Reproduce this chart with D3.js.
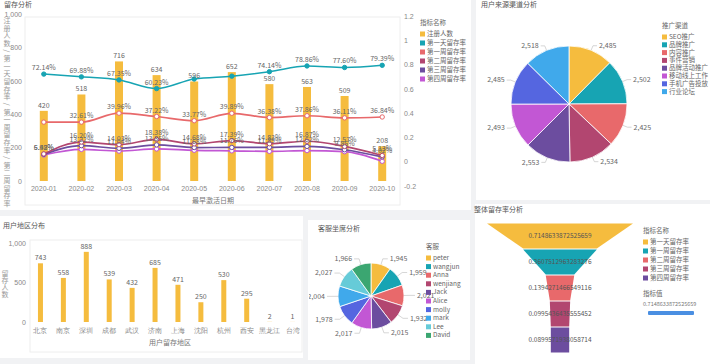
<!DOCTYPE html>
<html><head><meta charset="utf-8">
<script src="https://cdn.jsdelivr.net/npm/d3@7/dist/d3.min.js"></script>
<style>
body{margin:0;background:#fff;}
svg{display:block;font-family:"Noto Sans CJK SC","Noto Sans",sans-serif;}
</style>
</head><body>
<svg id="c" width="710" height="364"></svg>
<script>
// ---------- DATA ----------
const months = ["2020-01","2020-02","2020-03","2020-04","2020-05","2020-06","2020-07","2020-08","2020-09","2020-10"];
const registrations = [420,518,716,634,596,652,580,563,509,208];
const day1Rate  = [0.7214,0.6988,0.6735,0.6023,0.6812,0.7045,0.7414,0.7886,0.7760,0.7939];
const week1Rate = [0.3262,0.3261,0.3996,0.3722,0.3377,0.3989,0.3638,0.3786,0.3611,0.3684];
const week2Rate = [0.0642,0.1620,0.1403,0.1838,0.1468,0.1739,0.1483,0.1687,0.1257,0.0513];
const week3Rate = [0.0598,0.1322,0.1104,0.1385,0.1168,0.1176,0.1189,0.1262,0.0985,0.0402];
const week4Rate = [0.0556,0.1012,0.0876,0.1054,0.0942,0.0897,0.0853,0.0915,0.0827,0.0034];
const retentionNames = ["注册人数","第一天留存率","第一周留存率","第二周留存率","第三周留存率","第四周留存率"];

const channels = ["SEO推广","品牌推广","内容推广","事件营销","品牌活动推广","移动线上工作","手机广告投放","行业论坛"];
const channelValues = [2485,2502,2425,2534,2553,2493,2485,2518];

const regions = ["北京","南京","深圳","成都","武汉","济南","上海","沈阳","杭州","西安","黑龙江","台湾"];
const regionValues = [743,558,888,539,432,685,471,250,530,295,2,1];

const agents = ["peter","wangjun","Anna","wenjiang","Jack","Alice","molly","mark","Lee","David"];
const agentValues = [1945,1959,2021,1932,2015,2017,1978,2004,2027,1966];

const funnelStages = ["第一天留存率","第一周留存率","第二周留存率","第三周留存率","第四周留存率"];
const funnelValues = [0.7148633872525659,0.3607512963283276,0.1394271466549116,0.0995436435555452,0.0899571938058714];

// ---------- STYLE ----------
const palette = ["#F5BC3E","#17A4B3","#E8696B","#B24670","#6C4D9F","#C257D4","#5566E0","#40A9EB","#66CBD8","#3BA671"];
const fs = 7, tc = "#888", lc = "#666";

const svg = d3.select("#c");
svg.append("rect").attr("width",710).attr("height",364).attr("fill","#f1f2f4");
function card(x,y,w,h){svg.append("rect").attr("x",x).attr("y",y).attr("width",w).attr("height",h).attr("fill","#fff");}
card(0,0,471,210); card(476,0,234,200); card(0,216,303,142); card(308,220,162,140); card(475,204,235,160);
function title(x,y,t){svg.append("text").attr("x",x).attr("y",y).attr("font-size",7).attr("fill","#555").text(t);}
title(4,7,"留存分析"); title(481,7,"用户来源渠道分析"); title(3,228,"用户地区分布"); title(318,231,"客服坐席分析"); title(474,212,"整体留存率分析");
function frame(x,y,w,h){svg.append("rect").attr("x",x).attr("y",y).attr("width",w).attr("height",h).attr("fill","none").attr("stroke","#eeeeee");}
frame(25,17,375,188); frame(30,240,272,112);

function legend(x,y,ttl,names,colors,step){
  const g=svg.append("g");
  g.append("text").attr("x",x).attr("y",y).attr("font-size",6.5).attr("fill","#666").text(ttl);
  names.forEach((n,i)=>{
    const yy=y+11+i*step;
    g.append("rect").attr("x",x).attr("y",yy-4.5).attr("width",5).attr("height",5).attr("fill",colors[i]);
    g.append("text").attr("x",x+7).attr("y",yy).attr("font-size",6.5).attr("fill","#666").text(n);
  });
  return g;
}

// ---------- CHART A: retention combo ----------
(function(){
  const x = d3.scaleBand().domain(months).range([25,401]);
  const yL = d3.scaleLinear().domain([0,1000]).range([181,14]);
  const yR = d3.scaleLinear().domain([-0.2,1.2]).range([186,16]);
  const cx = m => x(m)+x.bandwidth()/2;

  const ax = svg.append("g").attr("transform","translate(25,0)")
    .call(d3.axisLeft(yL).tickValues([0,200,400,600,800,1000]).tickFormat(d3.format(",")).tickSize(0).tickPadding(3));
  const axR = svg.append("g").attr("transform","translate(401,0)")
    .call(d3.axisRight(yR).tickValues([-0.2,0,0.2,0.4,0.6,0.8,1,1.2]).tickFormat(d=>String(+d.toFixed(1))).tickSize(0).tickPadding(3));
  const axB = svg.append("g").attr("transform","translate(0,181)")
    .call(d3.axisBottom(x).tickSize(0).tickPadding(5));
  [ax,axR,axB].forEach(a=>{a.select(".domain").remove(); a.selectAll("text").attr("font-size",fs).attr("fill",tc);});

  svg.append("text").attr("x",213).attr("y",203).attr("text-anchor","middle").attr("font-size",fs).attr("fill","#777").text("最早激活日期");
  svg.append("text").attr("x",7).attr("y",17).attr("font-size",7).attr("fill","#999")
    .attr("writing-mode","tb").attr("letter-spacing",0.6)
    .text("注册人数 / 第一天留存率 / 第一周留存率 / 第二周留存率");

  svg.append("g").selectAll("rect").data(registrations).join("rect")
    .attr("x",(d,i)=>cx(months[i])-4).attr("width",8)
    .attr("y",d=>yL(d)).attr("height",d=>yL(0)-yL(d)).attr("fill",palette[0]);

  const series=[day1Rate,week1Rate,week2Rate,week3Rate,week4Rate];
  const line=d3.line().x((d,i)=>cx(months[i])).y(d=>yR(d)).curve(d3.curveMonotoneX);
  series.slice().reverse().forEach((s,ri)=>{
    const k=series.length-1-ri, col=palette[k+1];
    svg.append("path").datum(s).attr("d",line).attr("fill","none").attr("stroke",col).attr("stroke-width",k===0?1.5:1.7);
    svg.append("g").selectAll("circle").data(s).join("circle")
      .attr("cx",(d,i)=>cx(months[i])).attr("cy",d=>yR(d)).attr("r",2.2)
      .attr("fill",k===0?col:"#fff").attr("stroke",col).attr("stroke-width",1);
  });
  // labels
  svg.append("g").selectAll("text").data(registrations).join("text")
    .attr("x",(d,i)=>cx(months[i])).attr("y",d=>yL(d)-3).attr("text-anchor","middle")
    .attr("font-size",fs).attr("fill",lc).text(d=>d);
  const hidden={0:[4,5],1:[0],2:[],3:[]};
  const pct=d3.format(".2%");
  [0,1,2,3].forEach(k=>{
    svg.append("g").selectAll("text").data(series[k]).join("text")
      .attr("x",(d,i)=>cx(months[i])).attr("y",d=>yR(d)-4).attr("text-anchor","middle")
      .attr("font-size",fs).attr("fill",lc)
      .text((d,i)=>hidden[k].includes(i)?"":pct(d));
  });
  legend(420,25,"指标名称",retentionNames,palette.slice(0,6),9);
})();

// ---------- CHART B: channel pie ----------
function pieChart(cxp,cyp,r,values,opts){
  const arcs=d3.pie().sort(null).value(d=>d)(values);
  const arc=d3.arc().innerRadius(0).outerRadius(r);
  const g=svg.append("g");
  if(opts.clip){
    const id="clip"+Math.round(cxp);
    svg.append("clipPath").attr("id",id).append("rect").attr("x",opts.clip[0]).attr("y",opts.clip[1]).attr("width",opts.clip[2]).attr("height",opts.clip[3]);
    g.attr("clip-path",`url(#${id})`);
  }
  const gi=g.append("g").attr("transform",`translate(${cxp},${cyp})`);
  gi.selectAll("path").data(arcs).join("path").attr("d",arc).attr("fill",(d,i)=>palette[i]).attr("stroke","#fff").attr("stroke-width",0.8);
  const fmt=d3.format(",");
  arcs.forEach((a,i)=>{
    const m=(a.startAngle+a.endAngle)/2, s=Math.sin(m), c=-Math.cos(m);
    const p1=[r*s,r*c], p2=[(r+opts.l1)*s,(r+opts.l1)*c], dir=s>=0?1:-1;
    const p3=[p2[0]+dir*opts.l2,p2[1]];
    gi.append("polyline").attr("points",[p1,p2,p3].map(p=>p.join(",")).join(" ")).attr("fill","none").attr("stroke","#bbb").attr("stroke-width",0.6);
    gi.append("text").attr("x",p3[0]+dir*2).attr("y",p3[1]+2.3).attr("text-anchor",dir>0?"start":"end")
      .attr("font-size",fs).attr("fill",lc).text(fmt(values[i]));
  });
}
pieChart(569,104,58,channelValues,{l1:5,l2:4});
legend(662,28,"推广渠道",channels,palette.slice(0,8),7.8);

// ---------- CHART C: region bars ----------
(function(){
  const x=d3.scaleBand().domain(regions).range([29,304]);
  const y=d3.scaleLinear().domain([0,1000]).range([322,243]);
  const cx=m=>x(m)+x.bandwidth()/2;
  const ay=svg.append("g").attr("transform","translate(29,0)")
    .call(d3.axisLeft(y).tickValues([0,500,1000]).tickFormat(d3.format(",")).tickSize(0).tickPadding(3));
  const ab=svg.append("g").attr("transform","translate(0,323)")
    .call(d3.axisBottom(x).tickSize(0).tickPadding(5));
  [ay,ab].forEach(a=>{a.select(".domain").remove(); a.selectAll("text").attr("font-size",fs).attr("fill",tc);});
  svg.append("g").selectAll("rect").data(regionValues).join("rect")
    .attr("x",(d,i)=>cx(regions[i])-2.5).attr("width",5)
    .attr("y",d=>y(d)).attr("height",d=>y(0)-y(d)).attr("fill",palette[0]);
  svg.append("g").selectAll("text").data(regionValues).join("text")
    .attr("x",(d,i)=>cx(regions[i])).attr("y",d=>y(d)-3).attr("text-anchor","middle")
    .attr("font-size",fs).attr("fill",lc).text(d=>d);
  svg.append("text").attr("x",170).attr("y",345).attr("text-anchor","middle").attr("font-size",fs).attr("fill","#777").text("用户留存地区");
  svg.append("text").attr("x",5).attr("y",270).attr("font-size",fs).attr("fill","#999").attr("writing-mode","tb").text("留存人数");
})();

// ---------- CHART D: agent pie ----------
pieChart(371,296,33,agentValues,{l1:6,l2:5,clip:[309,220,160,140]});
legend(426,249,"客服",agents,palette,8.6);

// ---------- CHART E: funnel ----------
(function(){
  const w=d3.scaleLinear().domain([0,funnelValues[0]]).range([0,146]);
  const y=d3.scaleBand().domain(funnelStages).range([223,353]);
  const cx=560, h=y.bandwidth();
  funnelStages.forEach((s,i)=>{
    const top=w(funnelValues[i]), bot=i<funnelValues.length-1?w(funnelValues[i+1]):top;
    const y0=y(s)+0.5, y1=y(s)+h-0.5;
    svg.append("path").attr("d",`M${cx-top/2},${y0}L${cx+top/2},${y0}L${cx+bot/2},${y1}L${cx-bot/2},${y1}Z`).attr("fill",palette[i]);
    svg.append("text").attr("x",cx).attr("y",y(s)+h/2+2.3).attr("text-anchor","middle").attr("font-size",6.5).attr("fill","#555").text(String(funnelValues[i]));
  });
  legend(643,233,"指标名称",funnelStages,palette.slice(0,5),9);
  svg.append("text").attr("x",643).attr("y",296).attr("font-size",6.5).attr("fill","#666").text("指标值");
  svg.append("text").attr("x",643).attr("y",306).attr("font-size",5.5).attr("fill","#777").text(String(funnelValues[0]));
  svg.append("rect").attr("x",648).attr("y",311).attr("width",46).attr("height",4).attr("rx",1).attr("fill","#4A8FE2");
})();
</script>
</body></html>
